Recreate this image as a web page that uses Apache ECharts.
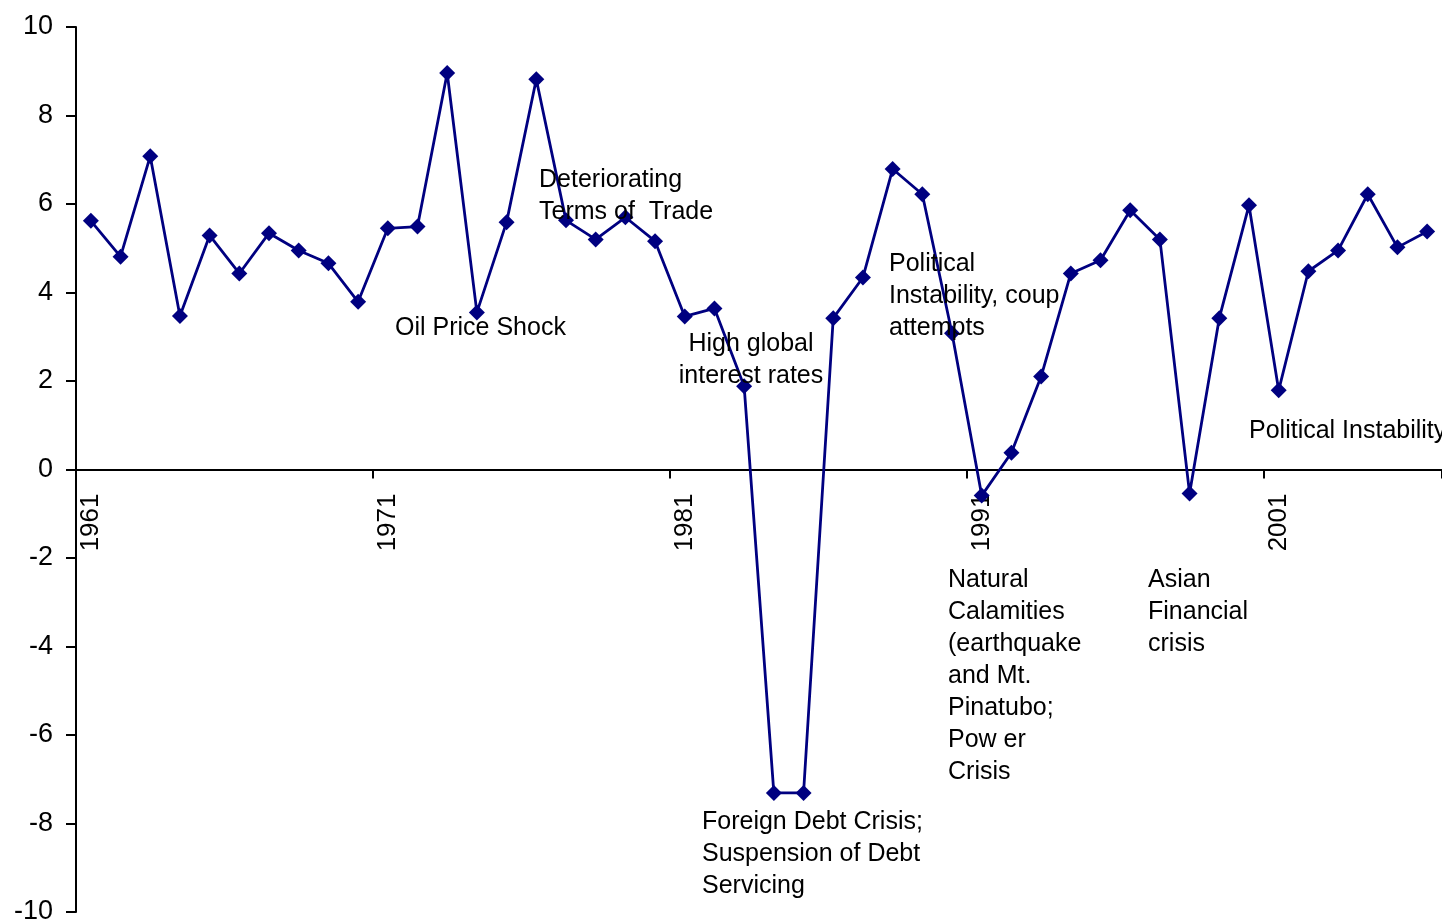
<!DOCTYPE html>
<html>
<head>
<meta charset="utf-8">
<title>Real GDP growth, 1961-2006</title>
<script src="https://cdn.jsdelivr.net/npm/echarts@6/dist/echarts.min.js"></script>
<style>
  html, body { margin: 0; padding: 0; background: #ffffff; }
  #chart { width: 1442px; height: 920px; }
</style>
</head>
<body>
<div id="chart"></div>
<script>
// Years on the category axis
const years = [];
for (let y = 1961; y <= 2006; y++) years.push(String(y));

// Annual GDP growth rate, %
const growth = [
  5.62, 4.81, 7.08, 3.47, 5.29, 4.43, 5.34, 4.95, 4.66, 3.79,
  5.45, 5.49, 8.96, 3.55, 5.59, 8.82, 5.63, 5.20, 5.70, 5.16,
  3.46, 3.64, 1.88, -7.31, -7.31, 3.42, 4.34, 6.79, 6.22, 3.08,
  -0.59, 0.38, 2.10, 4.43, 4.73, 5.86, 5.20, -0.54, 3.42, 5.97,
  1.79, 4.48, 4.95, 6.22, 5.02, 5.38
];

// Value axis ticks
const yMin = -10, yMax = 10, yStep = 2;

// Event notes written on the plot
const notes = [
  'Oil Price Shock',
  'Deteriorating\nTerms of  Trade',
  'High global\ninterest rates',
  'Foreign Debt Crisis;\nSuspension of Debt\nServicing',
  'Political\nInstability, coup\nattempts',
  'Natural\nCalamities\n(earthquake\nand Mt.\nPinatubo;\nPow er\nCrisis',
  'Asian\nFinancial\ncrisis',
  'Political Instability'
];

const FONT = '"Liberation Sans", Arial, sans-serif';
const W = 1442, H = 920;
const gridBox = { left: 76, right: 0, top: 27, bottom: 8 };
const plotH = H - gridBox.top - gridBox.bottom;
// Lift the category axis from the bottom edge up to the value 0 line
const zeroLift = -plotH * (0 - yMin) / (yMax - yMin);

const noteStyle = (text, extra) => Object.assign({
  text: text,
  fill: '#000000',
  font: '25px ' + FONT,
  lineHeight: 32,
  textVerticalAlign: 'top'
}, extra || {});

const chart = echarts.init(document.getElementById('chart'), null, { renderer: 'canvas' });

chart.setOption({
  animation: false,
  backgroundColor: '#ffffff',
  grid: Object.assign({ containLabel: false, outerBoundsMode: 'none' }, gridBox),
  xAxis: {
    type: 'category',
    data: years,
    position: 'bottom',
    offset: zeroLift,
    boundaryGap: true,
    axisLine: { onZero: false, lineStyle: { color: '#000000', width: 2 } },
    axisTick: { show: true, interval: 9, length: 9, inside: false, lineStyle: { color: '#000000', width: 2 } },
    axisLabel: {
      interval: 9,
      rotate: 90,
      margin: 24,
      color: '#000000',
      fontFamily: FONT,
      fontSize: 26
    },
    splitLine: { show: false }
  },
  yAxis: {
    type: 'value',
    min: yMin,
    max: yMax,
    interval: yStep,
    axisLine: { show: true, onZero: false, lineStyle: { color: '#000000', width: 2 } },
    axisTick: { show: true, length: 10, lineStyle: { color: '#000000', width: 2 } },
    axisLabel: { margin: 23, color: '#000000', fontFamily: FONT, fontSize: 27 },
    splitLine: { show: false }
  },
  series: [{
    type: 'line',
    data: growth,
    symbol: 'diamond',
    symbolSize: 16,
    showAllSymbol: true,
    lineStyle: { color: '#000080', width: 2.8 },
    itemStyle: { color: '#000080', borderWidth: 0 },
    z: 3
  }],
  graphic: [
    { type: 'text', left: 395, top: 312, style: noteStyle(notes[0]), z: 10 },
    { type: 'text', left: 539, top: 164, style: noteStyle(notes[1]), z: 10 },
    { type: 'text', x: 751, y: 328, style: noteStyle(notes[2], { textAlign: 'center' }), z: 10 },
    { type: 'text', left: 702, top: 806, style: noteStyle(notes[3]), z: 10 },
    { type: 'text', left: 889, top: 248, style: noteStyle(notes[4]), z: 10 },
    { type: 'text', left: 948, top: 564, style: noteStyle(notes[5]), z: 10 },
    { type: 'text', left: 1148, top: 564, style: noteStyle(notes[6]), z: 10 },
    { type: 'text', left: 1249, top: 415, style: noteStyle(notes[7]), z: 10 }
  ]
});
</script>
</body>
</html>
